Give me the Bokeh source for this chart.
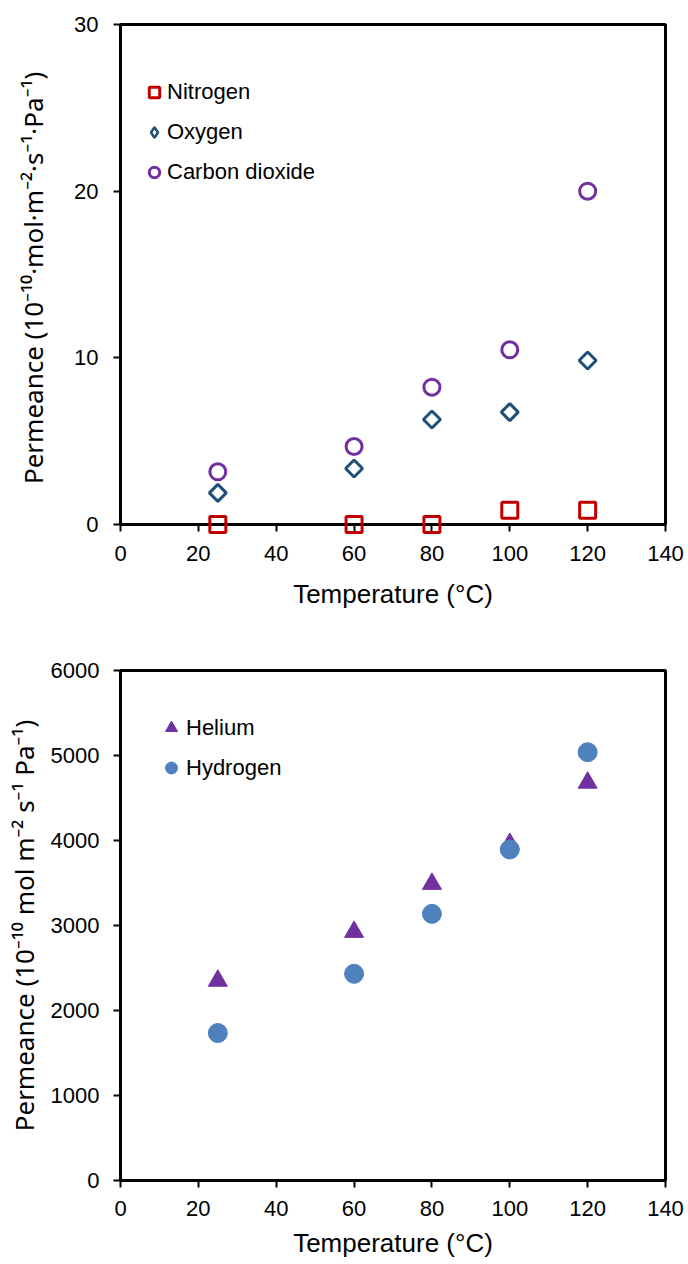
from bokeh.plotting import figure
from bokeh.models import Legend, LegendItem, Range1d, FixedTicker, ColumnDataSource
from bokeh.layouts import column
from bokeh.embed import file_html
from bokeh.resources import INLINE

# ---------------- data ----------------
temps = [25, 60, 80, 100, 120]
nitrogen = [0.0, 0.0, 0.0, 0.86, 0.86]
oxygen = [1.9, 3.36, 6.3, 6.74, 9.84]
carbon_dioxide = [3.16, 4.68, 8.24, 10.48, 20.0]
helium = [2350, 2925, 3490, 3960, 4680]
hydrogen = [1735, 2432, 3137, 3894, 5039]

x_ticks = [0, 20, 40, 60, 80, 100, 120, 140]
y1_ticks = [0, 10, 20, 30]
y2_ticks = [0, 1000, 2000, 3000, 4000, 5000, 6000]

FONT = "Liberation Sans"
YLABEL_FONT = "Noto Sans"
RED = "#C00000"
NAVY = "#1F4E79"
PURPLE = "#7030A0"
BLUE = "#4F81BD"


def style(p, xticks, yticks):
    p.outline_line_color = "black"
    p.outline_line_width = 3
    p.xgrid.visible = False
    p.ygrid.visible = False
    p.background_fill_color = "white"
    p.border_fill_color = "white"
    p.xaxis.ticker = FixedTicker(ticks=xticks)
    p.yaxis.ticker = FixedTicker(ticks=yticks)
    for ax in (p.xaxis[0], p.yaxis[0]):
        ax.axis_line_color = "black"
        ax.axis_line_width = 3
        ax.major_tick_line_color = "black"
        ax.major_tick_line_width = 2
        ax.major_tick_out = 7
        ax.major_tick_in = 0
        ax.minor_tick_line_color = None
        ax.major_label_text_font = FONT
        ax.major_label_text_font_size = "22px"
        ax.major_label_text_color = "black"
        ax.axis_label_text_font = FONT
        ax.axis_label_text_font_size = "26px"
        ax.axis_label_text_font_style = "normal"
        ax.axis_label_text_color = "black"
    p.yaxis.axis_label_text_font = YLABEL_FONT
    p.yaxis.axis_label_text_font_size = "26px"


# ---------------- top chart ----------------
p1 = figure(width=688, height=648, output_backend="svg", toolbar_location=None,
            x_range=Range1d(0, 140), y_range=Range1d(0, 30),
            min_border_left=115, min_border_right=19, min_border_top=24, min_border_bottom=124)
style(p1, x_ticks, y1_ticks)
p1.xaxis.axis_label = "Temperature (°C)"
p1.yaxis.axis_label = "Permeance  (10⁻¹⁰·mol·m⁻²·s⁻¹·Pa⁻¹)"
p1.xaxis.major_label_standoff = 14
p1.yaxis.major_label_standoff = 15
p1.xaxis.axis_label_standoff = 15
p1.yaxis.axis_label_standoff = 20

src1 = ColumnDataSource(dict(t=temps, n2=nitrogen, o2=oxygen, co2=carbon_dioxide))
r_n2 = p1.scatter("t", "n2", source=src1, marker="square", size=16, fill_color=None,
                  line_color=RED, line_width=3, level="overlay")
r_o2 = p1.scatter("t", "o2", source=src1, marker="square", angle=0.7853981634, size=12,
                  fill_color=None, line_color=NAVY, line_width=3, level="overlay")
r_co2 = p1.scatter("t", "co2", source=src1, marker="circle", size=16, fill_color=None,
                   line_color=PURPLE, line_width=3, level="overlay")
# zero-size twin used only as the legend key, so that the key is a diamond
r_o2_key = p1.scatter("t", "o2", source=src1, marker="diamond", size=0, fill_color=None,
                      line_color=NAVY, line_width=2.5)

leg1 = Legend(items=[LegendItem(label="Nitrogen", renderers=[r_n2]),
                     LegendItem(label="Oxygen", renderers=[r_o2_key]),
                     LegendItem(label="Carbon dioxide", renderers=[r_co2])],
              location=(21, 338), glyph_width=26, glyph_height=28, spacing=12,
              label_standoff=0, padding=0, margin=0, border_line_color=None,
              background_fill_alpha=0, label_text_font=FONT, label_text_font_size="22px",
              label_text_color="black")
p1.add_layout(leg1)

# ---------------- bottom chart ----------------
p2 = figure(width=688, height=616, output_backend="svg", toolbar_location=None,
            x_range=Range1d(0, 140), y_range=Range1d(0, 6000),
            min_border_left=120, min_border_right=23, min_border_top=22, min_border_bottom=84)
style(p2, x_ticks, y2_ticks)
p2.xaxis.axis_label = "Temperature (°C)"
p2.yaxis.axis_label = "Permeance (10⁻¹⁰ mol m⁻² s⁻¹ Pa⁻¹)"
p2.xaxis.major_label_standoff = 13
p2.yaxis.major_label_standoff = 14
p2.xaxis.axis_label_standoff = 9
p2.yaxis.axis_label_standoff = 6

src2 = ColumnDataSource(dict(t=temps, he=helium, h2=hydrogen))
r_he = p2.scatter("t", "he", source=src2, marker="triangle", size=19, fill_color=PURPLE,
                  line_color=PURPLE, line_width=1)
r_h2 = p2.scatter("t", "h2", source=src2, marker="circle", size=19, fill_color=BLUE,
                  line_color=BLUE, line_width=1)

leg2 = Legend(items=[LegendItem(label="Helium", renderers=[r_he]),
                     LegendItem(label="Hydrogen", renderers=[r_h2])],
              location=(36, 395), glyph_width=30, glyph_height=35, spacing=5,
              label_standoff=0, padding=0, margin=0, border_line_color=None,
              background_fill_alpha=0, label_text_font=FONT, label_text_font_size="22px",
              label_text_color="black")
p2.add_layout(leg2)

layout = column(p1, p2, spacing=0)
open("out.html", "w").write(file_html(layout, INLINE))
